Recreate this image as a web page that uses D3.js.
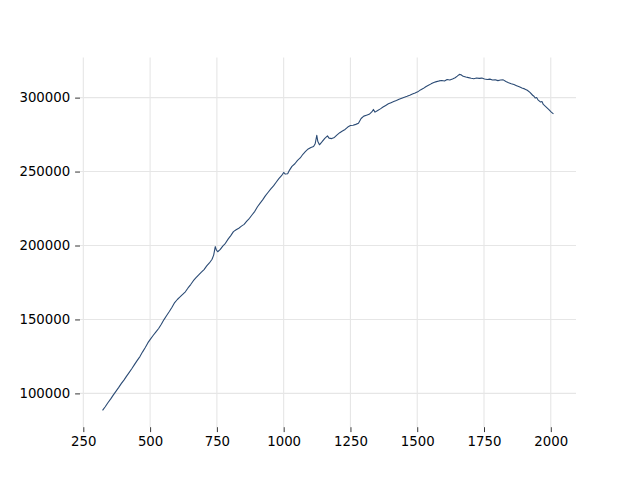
<!DOCTYPE html>
<html>
<head>
<meta charset="utf-8">
<script src="https://cdn.jsdelivr.net/npm/d3@7"></script>
<style>
  html, body { margin: 0; padding: 0; background: #ffffff; }
  svg { display: block; }
</style>
</head>
<body>
<svg id="chart" width="640" height="480"></svg>
<script>
// ---- data ----
const xValues = [322,332,342,352,362,372,382,392,402,412,422,432,442,452,462,472,482,492,502,512,522,532,542,552,562,572,582,592,602,612,622,632,642,652,662,672,682,692,702,712,722,732,738,744,748,753,762,772,782,792,802,812,822,832,842,852,862,872,882,892,902,912,922,932,942,952,962,972,982,992,1000,1006,1015,1022,1031,1042,1052,1062,1072,1082,1092,1102,1112,1118,1124,1128,1134,1144,1154,1164,1170,1180,1190,1200,1210,1220,1230,1240,1250,1260,1270,1280,1290,1300,1310,1320,1330,1336,1342,1352,1362,1372,1382,1392,1402,1412,1422,1432,1442,1452,1462,1472,1482,1492,1502,1512,1522,1532,1542,1552,1562,1572,1582,1592,1602,1612,1622,1632,1642,1650,1658,1664,1672,1682,1692,1702,1712,1722,1732,1742,1752,1762,1772,1782,1792,1802,1812,1822,1832,1842,1852,1862,1872,1882,1892,1902,1912,1922,1932,1937,1942,1947,1952,1962,1967,1972,1982,1992,2002,2010];
const yValues = [88500,91000,93700,96100,98800,101400,103900,106600,109000,111700,114200,116800,119600,122300,124900,128100,131000,134300,136900,139300,141600,143900,146800,149900,152700,155400,158300,161400,163500,165200,167000,168700,171300,173600,176200,178300,180200,182000,183700,186200,188200,190700,193500,199300,197000,195800,197200,199600,201500,204300,206700,209400,210600,211700,213100,214300,216500,218400,220800,223100,226200,228700,231000,233700,236000,238300,240300,242800,245200,247200,249400,248300,248500,251000,253500,255300,257600,259200,261700,263600,265300,266300,267000,268800,274500,270300,268100,270200,272500,274100,272600,272300,273100,274800,276300,277400,278500,280100,281100,281300,281900,282600,285900,287500,288100,288700,290300,292000,290200,291300,292400,293600,294700,295800,296600,297400,298100,298900,299600,300300,300900,301600,302400,303100,303900,305200,306100,307300,308300,309300,310200,310800,311300,311600,311200,312200,311900,312600,313400,314500,315700,315500,314400,313900,313500,313100,312800,313300,313000,313200,312600,312300,312500,311900,312100,311500,311900,312000,310900,310100,309400,308900,308100,307300,306500,305900,305000,303500,301600,300900,299700,300100,298500,297000,297400,295400,293800,292100,290200,289000];
const xTicks = [250,500,750,1000,1250,1500,1750,2000];
const yTicks = [100000,150000,200000,250000,300000];

// ---- layout ----
const plotLeft = 80, plotRight = 576, plotTop = 57.6, plotBottom = 427.2;

const data = xValues.map((xv, i) => ({x: xv, y: yValues[i]}));

function padded(ext) {
  const r = ext[1] - ext[0];
  return [ext[0] - 0.05 * r, ext[1] + 0.05 * r];
}
const xScale = d3.scaleLinear().domain(padded(d3.extent(xValues))).range([plotLeft, plotRight]);
const yScale = d3.scaleLinear().domain(padded(d3.extent(yValues))).range([plotBottom, plotTop]);

const svg = d3.select("#chart");
const font = "'DejaVu Sans', sans-serif";

// grid
const grid = svg.append("g");
grid.selectAll("line.vx").data(xTicks).enter().append("line")
  .attr("x1", d => xScale(d)).attr("x2", d => xScale(d))
  .attr("y1", plotTop).attr("y2", plotBottom)
  .attr("stroke", "#e6e6e6").attr("stroke-width", 1.1);
grid.selectAll("line.hy").data(yTicks).enter().append("line")
  .attr("x1", plotLeft).attr("x2", plotRight)
  .attr("y1", d => yScale(d)).attr("y2", d => yScale(d))
  .attr("stroke", "#e6e6e6").attr("stroke-width", 1.1);

// axes
const xAxis = d3.axisBottom(xScale).tickValues(xTicks).tickSize(4.9).tickPadding(4.9).tickFormat(d3.format("d"));
const yAxis = d3.axisLeft(yScale).tickValues(yTicks).tickSize(4.9).tickPadding(4.9).tickFormat(d3.format("d"));

const gx = svg.append("g").attr("transform", `translate(0,${plotBottom})`).call(xAxis);
const gy = svg.append("g").attr("transform", `translate(${plotLeft},0)`).call(yAxis);
[gx, gy].forEach(g => {
  g.select(".domain").remove();
  g.selectAll(".tick line").attr("stroke", "#000").attr("stroke-width", 0.8);
  g.selectAll(".tick text").attr("fill", "#000").style("font-family", font).style("font-size", "13.3px");
});

// line
const line = d3.line().x(d => xScale(d.x)).y(d => yScale(d.y));
svg.append("path").datum(data)
  .attr("d", line)
  .attr("fill", "none")
  .attr("stroke", "#2b4b75")
  .attr("stroke-width", 1.1)
  .attr("stroke-linejoin", "round");
</script>
</body>
</html>
